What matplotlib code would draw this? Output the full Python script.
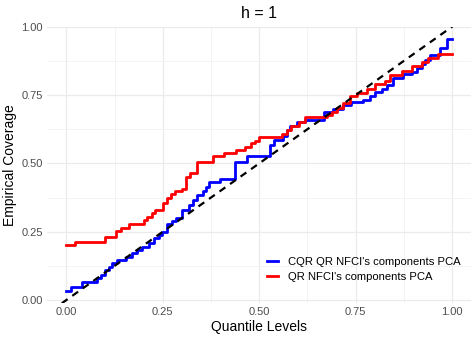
import numpy as np
import matplotlib.pyplot as plt
from matplotlib.ticker import MultipleLocator

plt.rcParams['font.family'] = ['Liberation Sans', 'DejaVu Sans']

# step change points (quantile level, coverage)
lvl_cqr = [0.000, 0.011, 0.041, 0.080, 0.089, 0.100, 0.111, 0.119, 0.132, 0.154,
           0.171, 0.184, 0.197, 0.214, 0.227, 0.240, 0.249, 0.262, 0.275, 0.285,
           0.300, 0.317, 0.328, 0.339, 0.354, 0.363, 0.370, 0.399, 0.438, 0.469,
           0.528, 0.539, 0.562, 0.572, 0.580, 0.598, 0.619, 0.668, 0.692, 0.718,
           0.738, 0.770, 0.788, 0.801, 0.818, 0.831, 0.848, 0.874, 0.896, 0.909,
           0.922, 0.930, 0.943, 0.969, 0.986, 1.000]
cov_cqr = [0.034, 0.046, 0.067, 0.079, 0.091, 0.110, 0.122, 0.134, 0.146, 0.158,
           0.173, 0.183, 0.195, 0.210, 0.226, 0.238, 0.250, 0.277, 0.290, 0.299,
           0.329, 0.346, 0.366, 0.384, 0.399, 0.412, 0.431, 0.442, 0.506, 0.528,
           0.569, 0.585, 0.602, 0.621, 0.637, 0.650, 0.660, 0.689, 0.698, 0.713,
           0.726, 0.732, 0.748, 0.762, 0.774, 0.787, 0.813, 0.826, 0.835, 0.848,
           0.862, 0.878, 0.896, 0.921, 0.955, 0.955]

lvl_qr = [0.000, 0.022, 0.099, 0.128, 0.141, 0.162, 0.200, 0.210, 0.221, 0.231,
          0.251, 0.261, 0.272, 0.282, 0.300, 0.310, 0.321, 0.340, 0.380, 0.410,
          0.440, 0.462, 0.479, 0.488, 0.500, 0.559, 0.572, 0.583, 0.602, 0.619,
          0.675, 0.688, 0.701, 0.718, 0.736, 0.753, 0.779, 0.800, 0.826, 0.839,
          0.870, 0.896, 0.921, 0.939, 0.964, 1.000]
cov_qr = [0.200, 0.211, 0.232, 0.251, 0.263, 0.277, 0.293, 0.305, 0.317, 0.329,
          0.354, 0.375, 0.387, 0.399, 0.406, 0.449, 0.466, 0.506, 0.527, 0.539,
          0.549, 0.561, 0.573, 0.583, 0.595, 0.607, 0.622, 0.637, 0.652, 0.671,
          0.677, 0.689, 0.701, 0.720, 0.746, 0.756, 0.774, 0.789, 0.801, 0.823,
          0.838, 0.856, 0.872, 0.884, 0.899, 0.899]

labels = ["CQR QR NFCI's components PCA", "QR NFCI's components PCA"]
ticks = [0.0, 0.25, 0.5, 0.75, 1.0]

fig = plt.figure(figsize=(4.76, 3.4), dpi=100)
ax = fig.add_axes([0.099, 0.108, 0.891, 0.814])

ax.step(lvl_cqr, cov_cqr, where='post', color='blue', lw=2.0, label=labels[0], zorder=3)
ax.step(lvl_qr, cov_qr, where='post', color='red', lw=2.0, label=labels[1], zorder=4)
ax.axline((0, 0), slope=1, color='black', lw=1.6, dashes=(3.2, 2.6), zorder=5)

ax.set_xlim(-0.05, 1.05)
ax.set_ylim(-0.012, 1.001)
ax.set_xticks(ticks)
ax.set_yticks(ticks)
ax.set_xticklabels(['%.2f' % t for t in ticks])
ax.set_yticklabels(['%.2f' % t for t in ticks])
ax.xaxis.set_minor_locator(MultipleLocator(0.125))
ax.yaxis.set_minor_locator(MultipleLocator(0.125))
ax.grid(True, which='major', color='#EBEBEB', lw=0.9, zorder=0)
ax.grid(True, which='minor', color='#F3F3F3', lw=0.6, zorder=0)
ax.tick_params(which='both', length=0, labelsize=8, labelcolor='#4D4D4D', pad=3)
for s in ax.spines.values():
    s.set_visible(False)

ax.set_xlabel('Quantile Levels', fontsize=10, labelpad=2)
ax.set_ylabel('Empirical Coverage', fontsize=10, labelpad=3)
ax.set_title('h = 1', fontsize=11.5, pad=6)

ax.legend(loc='lower right', bbox_to_anchor=(1.0, 0.04), frameon=False, fontsize=8.1,
          handlelength=1.0, handletextpad=0.9, labelspacing=0.45)

fig.savefig('out.png', dpi=100)
